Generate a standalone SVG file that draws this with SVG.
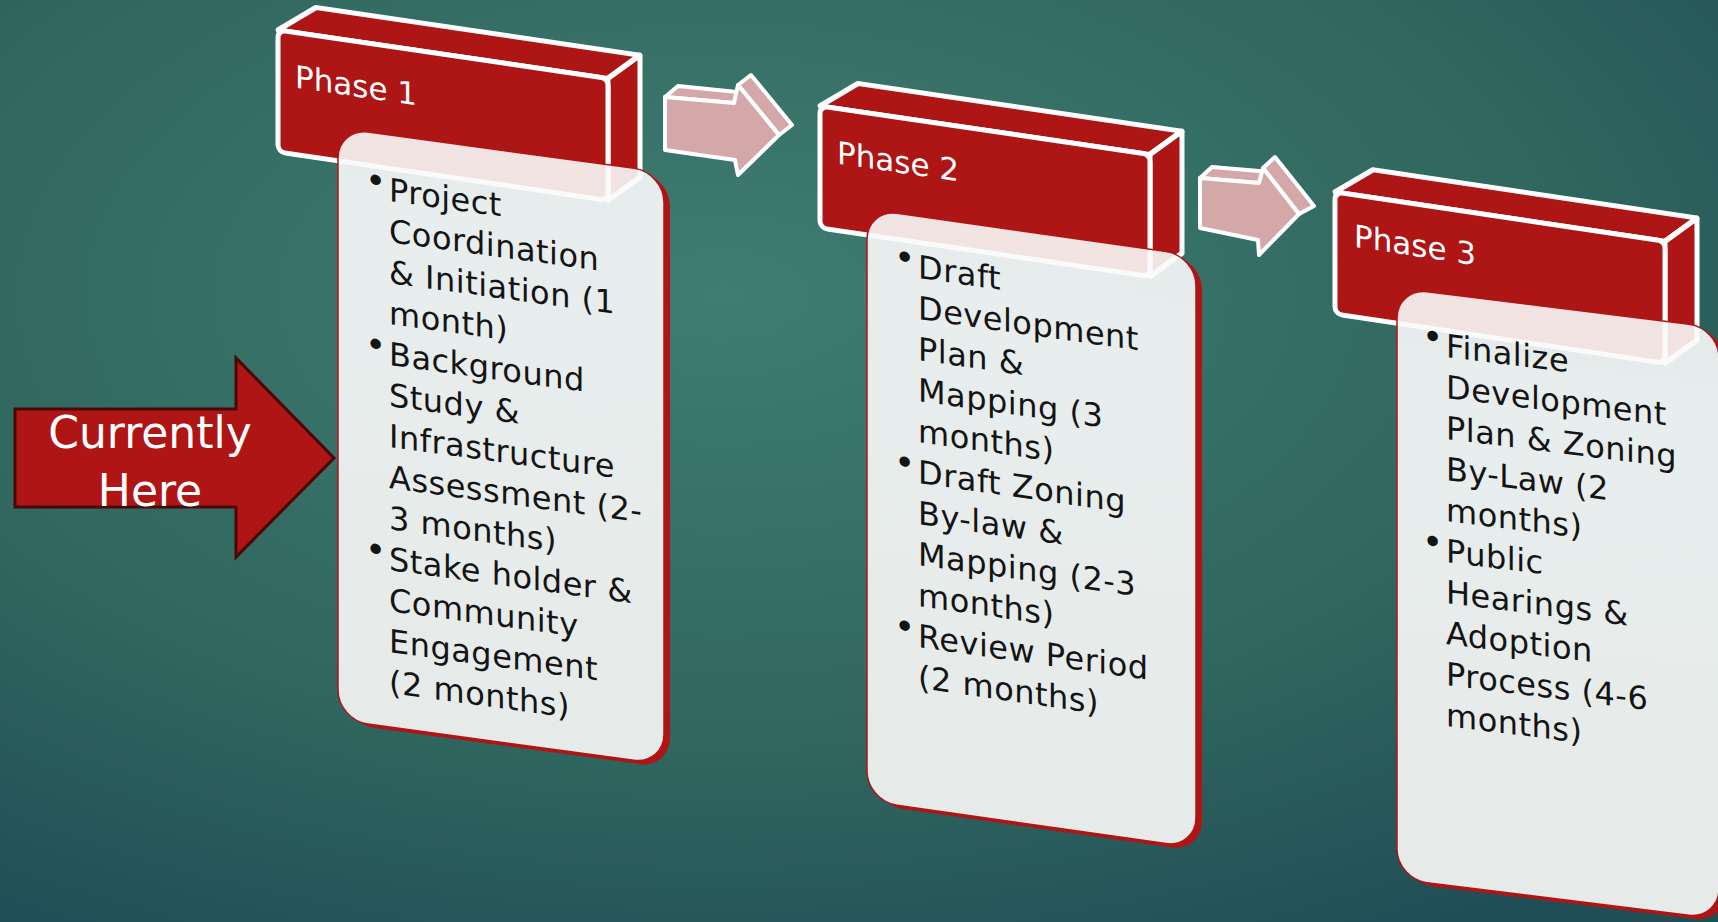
<svg xmlns="http://www.w3.org/2000/svg" width="1718" height="922" viewBox="0 0 1718 922">
<defs>
<style>
.hd{fill:#ae1515;stroke:#ffffff;stroke-width:5;stroke-linejoin:round}
.ph{font-family:"DejaVu Sans","Liberation Sans",sans-serif;font-size:31px;fill:#ffffff}
.bk{fill:#b01515}
.face{fill:url(#cf);stroke:#b01515;stroke-width:1.5}
.bt{font-family:"DejaVu Sans","Liberation Sans",sans-serif;font-size:32px;fill:#141414;letter-spacing:0.5px}
.bu{font-family:"DejaVu Sans","Liberation Sans",sans-serif;font-size:36px;fill:#141414}
.ar{fill:#d4a7a8;stroke:#ffffff;stroke-width:4;stroke-linejoin:round}
.cur{font-family:"DejaVu Sans","Liberation Sans",sans-serif;font-size:44px;fill:#ffffff;text-anchor:middle}
</style>
<radialGradient id="bg" cx="0.42" cy="0.32" r="0.8">
<stop offset="0" stop-color="#3f7c72"/>
<stop offset="0.6" stop-color="#30675f"/>
<stop offset="1" stop-color="#204e57"/>
</radialGradient>
<linearGradient id="cf" x1="0" y1="0" x2="0" y2="1">
<stop offset="0" stop-color="#fafafa" stop-opacity="0.9"/>
<stop offset="0.085" stop-color="#fafafa" stop-opacity="0.9"/>
<stop offset="0.12" stop-color="#e8eded" stop-opacity="1"/>
<stop offset="1" stop-color="#e6ebea" stop-opacity="1"/>
</linearGradient>
<mask id="mk1" maskUnits="userSpaceOnUse" x="-20" y="-20" width="380" height="640"><rect x="-20" y="-20" width="380" height="640" fill="#fff"/><rect width="326" height="592" rx="30" fill="#000"/></mask>
<mask id="mk2" maskUnits="userSpaceOnUse" x="-20" y="-20" width="380" height="640"><rect x="-20" y="-20" width="380" height="640" fill="#fff"/><rect width="329" height="592" rx="30" fill="#000"/></mask>
<mask id="mk3" maskUnits="userSpaceOnUse" x="-20" y="-20" width="380" height="640"><rect x="-20" y="-20" width="380" height="640" fill="#fff"/><rect width="322" height="591" rx="30" fill="#000"/></mask>
</defs>
<rect width="1718" height="922" fill="url(#bg)"/>

<g id="current">
<polygon points="15,409 236,409 236,358 334,458 236,557 236,507 15,507" fill="#b01515" stroke="#4a0707" stroke-width="3" stroke-linejoin="miter"/>
<text class="cur" x="150" y="448">Currently</text>
<text class="cur" x="150" y="506">Here</text>
</g>

<g id="phase1">
<g transform="translate(278,30) skewY(8.35)">
<path class="hd" d="M0,0 L38,-28 L362,-28 L330,0 Z"/>
<path class="hd" d="M330,0 L362,-28 L362,94 L330,122 Z"/>
<rect class="hd" x="0" y="0" width="330" height="122" rx="7"/>
<text class="ph" x="17" y="55">Phase 1</text>
</g>
<g transform="translate(338,128) skewY(7.75)">
<rect class="bk" x="6" y="3" width="326" height="592" rx="30" mask="url(#mk1)"/>
<rect class="face" x="0" y="0" width="326" height="592" rx="30"/>
</g>
<g transform="translate(389,201) skewY(7.75)">
<text class="bu" x="-24" y="-6">•</text>
<text class="bt" x="0" y="0">Project</text>
<text class="bt" x="0" y="41">Coordination</text>
<text class="bt" x="0" y="82">&amp; Initiation (1</text>
<text class="bt" x="0" y="123">month)</text>
<text class="bu" x="-24" y="158">•</text>
<text class="bt" x="0" y="164">Background</text>
<text class="bt" x="0" y="205">Study &amp;</text>
<text class="bt" x="0" y="246">Infrastructure</text>
<text class="bt" x="0" y="287">Assessment (2-</text>
<text class="bt" x="0" y="328">3 months)</text>
<text class="bu" x="-24" y="363">•</text>
<text class="bt" x="0" y="369">Stake holder &amp;</text>
<text class="bt" x="0" y="410">Community</text>
<text class="bt" x="0" y="451">Engagement</text>
<text class="bt" x="0" y="492">(2 months)</text>
</g>
</g>

<g id="phase2">
<g transform="translate(820,106) skewY(8.35)">
<path class="hd" d="M0,0 L38,-28 L362,-28 L330,0 Z"/>
<path class="hd" d="M330,0 L362,-28 L362,94 L330,122 Z"/>
<rect class="hd" x="0" y="0" width="330" height="122" rx="7"/>
<text class="ph" x="17" y="55">Phase 2</text>
</g>
<g transform="translate(867,209) skewY(8.1)">
<rect class="bk" x="6" y="3" width="329" height="592" rx="30" mask="url(#mk2)"/>
<rect class="face" x="0" y="0" width="329" height="592" rx="30"/>
</g>
<g transform="translate(918,278) skewY(8.1)">
<text class="bu" x="-24" y="-6">•</text>
<text class="bt" x="0" y="0">Draft</text>
<text class="bt" x="0" y="41">Development</text>
<text class="bt" x="0" y="82">Plan &amp;</text>
<text class="bt" x="0" y="123">Mapping (3</text>
<text class="bt" x="0" y="164">months)</text>
<text class="bu" x="-24" y="199">•</text>
<text class="bt" x="0" y="205">Draft Zoning</text>
<text class="bt" x="0" y="246">By-law &amp;</text>
<text class="bt" x="0" y="287">Mapping (2-3</text>
<text class="bt" x="0" y="328">months)</text>
<text class="bu" x="-24" y="363">•</text>
<text class="bt" x="0" y="369">Review Period</text>
<text class="bt" x="0" y="410">(2 months)</text>
</g>
</g>

<g id="phase3">
<g transform="translate(1335,192) skewY(8.5)">
<path class="hd" d="M0,0 L38,-28 L362,-28 L330,0 Z"/>
<path class="hd" d="M330,0 L362,-28 L362,94 L330,122 Z"/>
<rect class="hd" x="0" y="0" width="330" height="122" rx="7"/>
<text class="ph" x="19" y="52">Phase 3</text>
</g>
<g transform="translate(1397,288) skewY(7.07)">
<rect class="bk" x="6" y="3" width="322" height="591" rx="30" mask="url(#mk3)"/>
<rect class="face" x="0" y="0" width="322" height="591" rx="30"/>
</g>
<g transform="translate(1446,357) skewY(7.07)">
<text class="bu" x="-24" y="-6">•</text>
<text class="bt" x="0" y="0">Finalize</text>
<text class="bt" x="0" y="41">Development</text>
<text class="bt" x="0" y="82">Plan &amp; Zoning</text>
<text class="bt" x="0" y="123">By-Law (2</text>
<text class="bt" x="0" y="164">months)</text>
<text class="bu" x="-24" y="199">•</text>
<text class="bt" x="0" y="205">Public</text>
<text class="bt" x="0" y="246">Hearings &amp;</text>
<text class="bt" x="0" y="287">Adoption</text>
<text class="bt" x="0" y="328">Process (4-6</text>
<text class="bt" x="0" y="369">months)</text>
</g>
</g>

<g id="connectors">
<g id="arrow1">
<polygon class="ar" points="665,97 678,86 747,93 734,103"/>
<polygon class="ar" points="738,85 751,75 792,125 779,135"/>
<polygon class="ar" points="665,97 734,103 738,85 779,135 738,175 735,160 665,150"/>
</g>
<g id="arrow2">
<polygon class="ar" points="1200,178 1212,167 1271,172 1259,183"/>
<polygon class="ar" points="1263,168 1275,157 1314,206 1299,214"/>
<polygon class="ar" points="1200,178 1259,183 1263,168 1299,214 1259,255 1258,240 1200,228"/>
</g>
</g>
</svg>
